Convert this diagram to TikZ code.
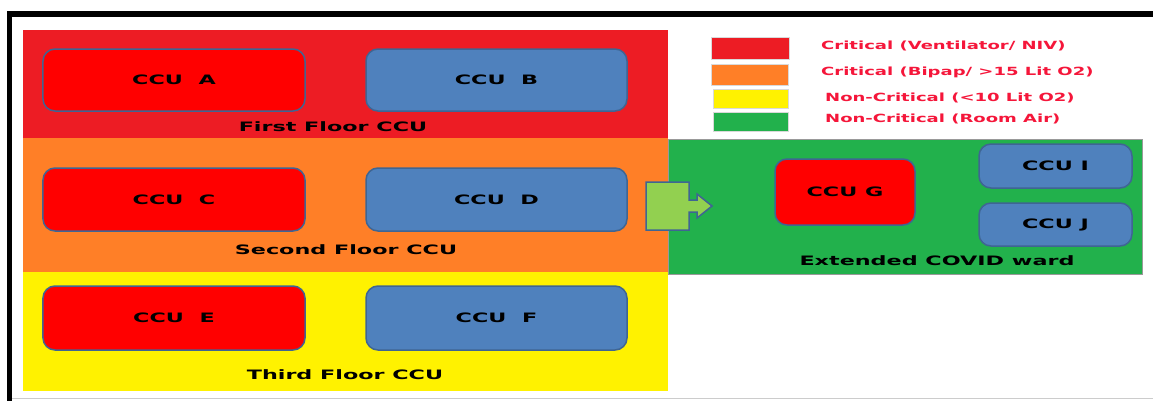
\documentclass[tikz,border=0pt]{standalone}
\usepackage{fontspec}
\newfontfamily\widefont[FakeStretch=1.72]{DejaVu Sans}
\newfontfamily\legfont[FakeStretch=1.6]{DejaVu Sans}
\definecolor{bandred}{HTML}{ED1C24}
\definecolor{bandorange}{HTML}{FF7F27}
\definecolor{bandyellow}{HTML}{FFF200}
\definecolor{bandgreen}{HTML}{22B14C}
\definecolor{ccured}{HTML}{FF0000}
\definecolor{ccublue}{HTML}{4F81BD}
\definecolor{ccuedge}{HTML}{3F6593}
\definecolor{arrowgreen}{HTML}{92D050}
\definecolor{legendtext}{HTML}{F5163A}
\begin{document}
\begin{tikzpicture}[x=1bp,y=-1bp,
  band/.style={anchor=north west,inner sep=0pt,outer sep=0pt},
  unit/.style={draw=ccuedge,line width=1.5bp,rounded corners=12bp,inner sep=0pt,
     font=\widefont\bfseries\fontsize{13}{15}\selectfont,text=black},
  redunit/.style={unit,fill=ccured},
  blueunit/.style={unit,fill=ccublue},
  floorlabel/.style={font=\widefont\bfseries\fontsize{13}{15}\selectfont,text=black,inner sep=0pt},
  swatch/.style={anchor=north west,inner sep=0pt,draw=white!85!black,line width=0.4bp},
  legend/.style={anchor=west,inner sep=0pt,text=legendtext,font=\legfont\bfseries\fontsize{11.3}{13}\selectfont}]
\useasboundingbox (0,0) rectangle (1153,401);
\fill[white] (0,0) rectangle (1153,401);
% frame
\fill[black] (7,11) rectangle (1153,17);
\fill[black] (7,11) rectangle (12,401);
\draw[black!20,line width=1bp] (12,398) -- (1153,398);
% bands
\node[band,fill=bandred,minimum width=645bp,minimum height=108bp] (first) at (23,30) {};
\node[band,fill=bandorange,minimum width=645bp,minimum height=134bp] (second) at (23,138) {};
\node[band,fill=bandyellow,minimum width=645bp,minimum height=119bp] (third) at (23,272) {};
\node[band,fill=bandgreen,minimum width=474bp,minimum height=135bp,draw=black!40,line width=0.5bp] (ext) at (668,139) {};
% units
\node[redunit,minimum width=262bp,minimum height=62bp] (A) at (174,80) {CCU\hspace{1.2em}A};
\node[blueunit,minimum width=261bp,minimum height=62bp] (B) at (496.5,80) {CCU\hspace{1.2em}B};
\node[redunit,minimum width=262bp,minimum height=63bp] (C) at (174,199.5) {CCU\hspace{1.2em}C};
\node[blueunit,minimum width=261bp,minimum height=63bp] (D) at (496.5,199.5) {CCU\hspace{1.2em}D};
\node[redunit,minimum width=262bp,minimum height=64bp] (E) at (174,318) {CCU\hspace{1.2em}E};
\node[blueunit,minimum width=261bp,minimum height=64bp] (F) at (496.5,318) {CCU\hspace{1.2em}F};
\node[redunit,minimum width=140bp,minimum height=66bp] (G) at (845,192) {CCU G};
\node[blueunit,minimum width=153bp,minimum height=44bp] (I) at (1055.5,166) {CCU I};
\node[blueunit,minimum width=153bp,minimum height=43bp] (J) at (1055.5,224.5) {CCU J};
% floor labels
\node[floorlabel] (l1) at (333,127) {First Floor CCU};
\node[floorlabel] (l2) at (346,250) {Second Floor CCU};
\node[floorlabel] (l3) at (345,375) {Third Floor CCU};
\node[floorlabel] (l4) at (937,261) {Extended COVID ward};
% arrow callout
\draw[fill=arrowgreen,draw=ccuedge,line width=1.5bp,line join=miter]
  (646,182) -- (689,182) -- (689,200) -- (697,200) -- (697,194) -- (712,206)
  -- (697,218) -- (697,212) -- (689,212) -- (689,230) -- (646,230) -- cycle;
% legend
\node[swatch,fill=bandred,minimum width=78bp,minimum height=22bp] (s1) at (711,37) {};
\node[swatch,fill=bandorange,minimum width=77bp,minimum height=21bp] (s2) at (711,64) {};
\node[swatch,fill=bandyellow,minimum width=75bp,minimum height=19bp] (s3) at (713,89) {};
\node[swatch,fill=bandgreen,minimum width=75bp,minimum height=19bp] (s4) at (713,112) {};
\node[legend] (t1) at (821,46) {Critical (Ventilator/ NIV)};
\node[legend] (t2) at (821,72) {Critical (Bipap/ >15 Lit O2)};
\node[legend] (t3) at (825,98) {Non-Critical (<10 Lit O2)};
\node[legend] (t4) at (825,119) {Non-Critical (Room Air)};
\end{tikzpicture}
\end{document}
